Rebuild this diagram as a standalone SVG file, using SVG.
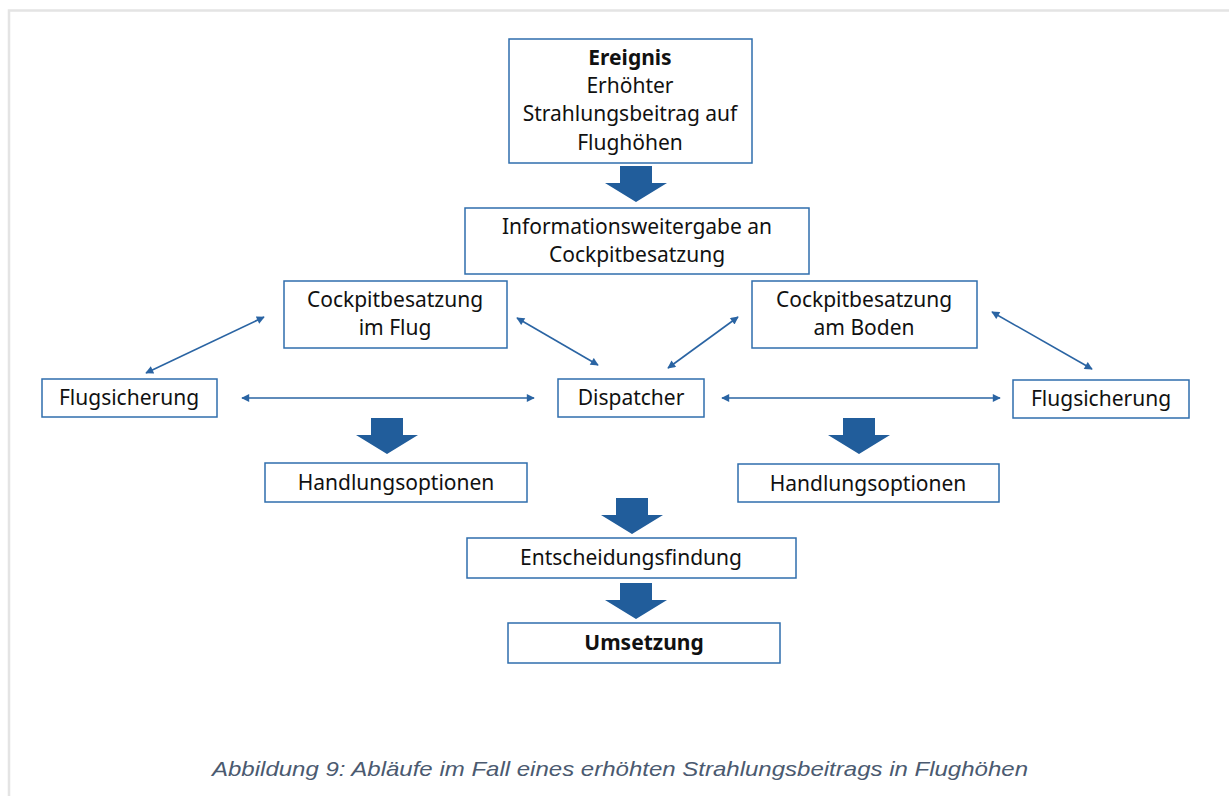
<svg xmlns="http://www.w3.org/2000/svg" width="1229" height="796" viewBox="0 0 1229 796">
<defs>
<style>
.box{fill:#fff;stroke:#2f6ead;stroke-width:1.5}
.t{font-family:"Noto Sans","Open Sans",sans-serif;font-size:21px;fill:#111;text-anchor:middle}
.b{font-weight:bold}
.con{stroke:#2a64a3;stroke-width:1.6;fill:none;marker-start:url(#ah);marker-end:url(#ah)}
.big{fill:#215d9b}
.cap{font-family:"Liberation Sans",Arial,sans-serif;font-style:italic;font-size:21px;fill:#4b5a70;text-anchor:middle}
</style>
<marker id="ah" viewBox="0 0 10 10" refX="9" refY="5" markerWidth="10" markerHeight="8" markerUnits="userSpaceOnUse" orient="auto-start-reverse">
<path d="M0,0 L10,5 L0,10 z" fill="#2a64a3"/>
</marker>
<path id="bigarrow" d="M-16,0 H16 V17 H31 L0,36 L-31,17 H-16 z"/>
</defs>
<rect width="1229" height="796" fill="#fff"/>
<path d="M9,800 V10.5 H1235" fill="none" stroke="#e4e4e4" stroke-width="2.5"/>

<g id="connectors">
<line class="con" x1="146" y1="373" x2="264" y2="317"/>
<line class="con" x1="517" y1="318" x2="598" y2="365"/>
<line class="con" x1="668" y1="368" x2="738" y2="317"/>
<line class="con" x1="992" y1="312" x2="1092" y2="369"/>
<line class="con" x1="242" y1="398" x2="534" y2="398"/>
<line class="con" x1="722" y1="398" x2="1000" y2="398"/>
<use href="#bigarrow" class="big" x="636" y="166"/>
<use href="#bigarrow" class="big" x="387" y="418"/>
<use href="#bigarrow" class="big" x="859" y="418"/>
<use href="#bigarrow" class="big" x="632" y="498"/>
<use href="#bigarrow" class="big" x="636" y="583"/>
</g>

<g id="ereignis">
<rect class="box" x="509" y="39" width="243" height="124"/>
<text class="t b" x="630" y="65">Ereignis</text>
<text class="t" x="630" y="93">Erhöhter</text>
<text class="t" x="630" y="121">Strahlungsbeitrag auf</text>
<text class="t" x="630" y="150">Flughöhen</text>
</g>
<g id="information">
<rect class="box" x="465" y="208" width="344" height="66"/>
<text class="t" x="637" y="234">Informationsweitergabe an</text>
<text class="t" x="637" y="262">Cockpitbesatzung</text>
</g>
<g id="cockpit-flug">
<rect class="box" x="284" y="281" width="223" height="67"/>
<text class="t" x="395" y="307">Cockpitbesatzung</text>
<text class="t" x="395" y="335">im Flug</text>
</g>
<g id="cockpit-boden">
<rect class="box" x="752" y="281" width="225" height="67"/>
<text class="t" x="864" y="307">Cockpitbesatzung</text>
<text class="t" x="864" y="335">am Boden</text>
</g>
<g id="flugsicherung-links">
<rect class="box" x="42" y="379" width="175" height="38"/>
<text class="t" x="129" y="405">Flugsicherung</text>
</g>
<g id="dispatcher">
<rect class="box" x="558" y="379" width="146" height="38"/>
<text class="t" x="631" y="405">Dispatcher</text>
</g>
<g id="flugsicherung-rechts">
<rect class="box" x="1013" y="380" width="176" height="38"/>
<text class="t" x="1101" y="406">Flugsicherung</text>
</g>
<g id="handlung-links">
<rect class="box" x="265" y="463" width="262" height="39"/>
<text class="t" x="396" y="490">Handlungsoptionen</text>
</g>
<g id="handlung-rechts">
<rect class="box" x="738" y="464" width="261" height="38"/>
<text class="t" x="868" y="491">Handlungsoptionen</text>
</g>
<g id="entscheidung">
<rect class="box" x="467" y="538" width="329" height="40"/>
<text class="t" x="631" y="565">Entscheidungsfindung</text>
</g>
<g id="umsetzung">
<rect class="box" x="508" y="623" width="272" height="40"/>
<text class="t b" x="644" y="650">Umsetzung</text>
</g>
<text class="cap" x="620" y="776" textLength="816" lengthAdjust="spacingAndGlyphs">Abbildung 9: Abläufe im Fall eines erhöhten Strahlungsbeitrags in Flughöhen</text>
</svg>
